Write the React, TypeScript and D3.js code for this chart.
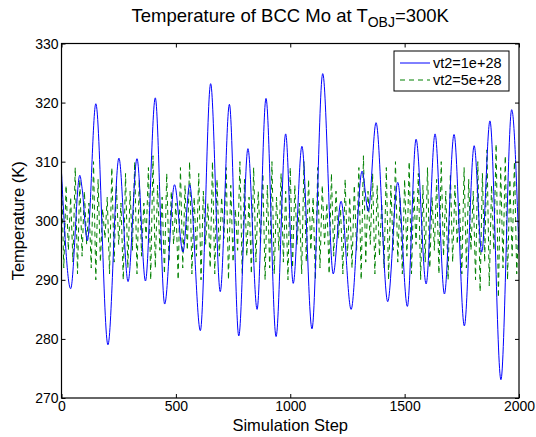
import * as d3 from "d3";
import { useRef, useEffect } from "react";

// vt2=1e+28 : turning points of the blue trace (simulation step, K)
const blueSteps = [
  0, 40, 80, 90, 113, 150, 203, 251, 291, 330, 367, 410, 451, 494, 531, 560,
  607, 652, 694, 734, 775, 815, 855, 894, 938, 980, 1013, 1051, 1095, 1142,
  1188, 1222, 1266, 1314, 1341, 1375, 1426, 1470, 1512, 1550, 1594, 1633,
  1674, 1716, 1761, 1804, 1837, 1873, 1921, 1968, 2000,
];
const blueTemps = [
  308.1, 288.5, 307.7, 305.5, 296.6, 319.8, 279.0, 310.6, 289.7, 310.5, 289.8,
  320.8, 285.9, 306.1, 294.7, 306.1, 281.4, 323.2, 288.0, 319.7, 280.5, 312.2,
  285.0, 320.7, 280.4, 314.7, 289.4, 312.6, 281.7, 324.9, 291.0, 303.3, 285.0,
  308.4, 301.6, 316.6, 286.3, 306.5, 285.5, 313.8, 289.3, 314.7, 287.6, 314.6,
  282.2, 312.7, 294.7, 316.9, 273.1, 318.8, 294.6,
];

// vt2=5e+28 : one sample every 10 steps
const sampleEvery = 10;
const greenTemps = [
  308, 292, 306, 295, 304, 293, 309, 291, 307, 294,
  305, 296, 303, 292, 310, 290, 307, 293, 302, 297,
  304, 291, 309, 293, 306, 296, 303, 290, 308, 292,
  305, 295, 310, 291, 307, 294, 303, 297, 309, 290,
  311, 292, 306, 295, 304, 291, 308, 293, 305, 296,
  303, 290, 309, 292, 306, 295, 310, 291, 304, 294,
  308, 290, 305, 296, 303, 292, 310, 291, 307, 294,
  304, 297, 309, 290, 306, 293, 302, 295, 310, 291,
  307, 294, 304, 291, 309, 293, 305, 296, 308, 290,
  306, 292, 310, 291, 304, 295, 308, 293, 305, 290,
  309, 292, 306, 296, 303, 291, 310, 293, 307, 295,
  304, 290, 309, 292, 306, 296, 303, 291, 308, 294,
  305, 297, 302, 291, 307, 294, 304, 292, 306, 295,
  309, 290, 311, 293, 305, 296, 308, 291, 306, 294,
  303, 292, 309, 290, 306, 295, 310, 293, 304, 291,
  307, 294, 310, 291, 305, 296, 308, 290, 306, 293,
  309, 292, 304, 295, 307, 291, 310, 294, 305, 290,
  308, 293, 306, 296, 303, 291, 309, 292, 307, 295,
  305, 290, 310, 288, 308, 293, 312, 289, 306, 295,
  313, 287, 309, 292, 311, 290, 307, 294, 310, 291,
  300,
];

const xTicks = [0, 500, 1000, 1500, 2000];
const yTicks = [270, 280, 290, 300, 310, 320, 330];
const seriesLabels = ["vt2=1e+28", "vt2=5e+28"];

const font = "'Liberation Sans', Arial, Helvetica, sans-serif";

export default function App() {
  const svgRef = useRef<SVGSVGElement>(null);
  const width = 536;
  const height = 437;
  const marginTop = 43.5;
  const marginRight = 17;
  const marginBottom = 39;
  const marginLeft = 61.5;

  useEffect(() => {
    const svg = d3.select(svgRef.current);
    svg.selectAll("*").remove();

    const x = d3
      .scaleLinear()
      .domain([0, 2000])
      .range([marginLeft, width - marginRight]);
    const y = d3
      .scaleLinear()
      .domain([270, 330])
      .range([height - marginBottom, marginTop]);

    svg
      .append("defs")
      .append("clipPath")
      .attr("id", "plot-clip")
      .append("rect")
      .attr("x", marginLeft)
      .attr("y", marginTop)
      .attr("width", width - marginLeft - marginRight)
      .attr("height", height - marginTop - marginBottom);

    const chart = svg.append("g").attr("clip-path", "url(#plot-clip)");

    const greenLine = d3
      .line<number>()
      .x((d, i) => x(i * sampleEvery))
      .y((d) => y(d));
    chart
      .append("path")
      .attr("fill", "none")
      .attr("stroke", "rgb(0,128,0)")
      .attr("stroke-width", 1)
      .attr("stroke-dasharray", "5,4")
      .attr("d", greenLine(greenTemps));

    const blueLine = d3
      .line<number>()
      .x((d, i) => x(blueSteps[i]))
      .y((d) => y(d))
      .curve(d3.curveMonotoneX);
    chart
      .append("path")
      .attr("fill", "none")
      .attr("stroke", "rgb(0,0,255)")
      .attr("stroke-width", 1)
      .attr("d", blueLine(blueTemps));

    // axes, MATLAB style: ticks inside on all four sides
    const tick = 4;
    const fmt = d3.format("d");
    const gx = svg
      .append("g")
      .attr("transform", `translate(0,${height - marginBottom})`)
      .call(
        d3
          .axisBottom(x)
          .tickValues(xTicks)
          .tickFormat(fmt)
          .tickSizeInner(-tick)
          .tickSizeOuter(0)
          .tickPadding(2)
      );
    svg
      .append("g")
      .attr("transform", `translate(0,${marginTop})`)
      .call(
        d3
          .axisTop(x)
          .tickValues(xTicks)
          .tickSizeInner(-tick)
          .tickSizeOuter(0)
          .tickFormat(() => "")
      );
    const gy = svg
      .append("g")
      .attr("transform", `translate(${marginLeft},0)`)
      .call(
        d3
          .axisLeft(y)
          .tickValues(yTicks)
          .tickFormat(fmt)
          .tickSizeInner(-tick)
          .tickSizeOuter(0)
          .tickPadding(3)
      );
    svg
      .append("g")
      .attr("transform", `translate(${width - marginRight},0)`)
      .call(
        d3
          .axisRight(y)
          .tickValues(yTicks)
          .tickSizeInner(-tick)
          .tickSizeOuter(0)
          .tickFormat(() => "")
      );
    svg.selectAll(".domain").remove();
    svg.selectAll(".tick line").attr("stroke", "#000");
    svg
      .selectAll(".tick text")
      .attr("font-family", font)
      .attr("font-size", 14)
      .attr("fill", "#000");
    gx.selectAll(".tick text").attr("dy", "0.75em");
    gy.selectAll(".tick text").attr("dy", "0.35em");

    svg
      .append("rect")
      .attr("x", marginLeft)
      .attr("y", marginTop)
      .attr("width", width - marginLeft - marginRight)
      .attr("height", height - marginTop - marginBottom)
      .attr("fill", "none")
      .attr("stroke", "#000")
      .attr("stroke-width", 1.2);

    // title with subscript
    const title = svg
      .append("text")
      .attr("x", (marginLeft + width - marginRight) / 2)
      .attr("y", 22)
      .attr("text-anchor", "middle")
      .attr("font-family", font)
      .attr("font-size", 18.5)
      .attr("fill", "#000");
    title.append("tspan").text("Temperature of BCC Mo at T");
    title.append("tspan").attr("dy", 4.5).attr("font-size", 14).text("OBJ");
    title.append("tspan").attr("dy", -4.5).text("=300K");

    svg
      .append("text")
      .attr("x", (marginLeft + width - marginRight) / 2)
      .attr("y", 431)
      .attr("text-anchor", "middle")
      .attr("font-family", font)
      .attr("font-size", 16.5)
      .text("Simulation Step");

    svg
      .append("text")
      .attr("transform", `translate(24,${(marginTop + height - marginBottom) / 2}) rotate(-90)`)
      .attr("text-anchor", "middle")
      .attr("font-family", font)
      .attr("font-size", 16.5)
      .text("Temperature (K)");

    // legend
    const legend = svg.append("g").attr("transform", "translate(394,51)");
    legend
      .append("rect")
      .attr("width", 115)
      .attr("height", 40)
      .attr("fill", "#fff")
      .attr("stroke", "#000")
      .attr("stroke-width", 1);
    const legendStyles = [
      { color: "rgb(0,0,255)", dash: null },
      { color: "rgb(0,128,0)", dash: "5,4" },
    ];
    seriesLabels.forEach((label, i) => {
      const cy = 12 + i * 17;
      legend
        .append("line")
        .attr("x1", 6)
        .attr("x2", 36)
        .attr("y1", cy)
        .attr("y2", cy)
        .attr("stroke", legendStyles[i].color)
        .attr("stroke-dasharray", legendStyles[i].dash);
      legend
        .append("text")
        .attr("x", 39)
        .attr("y", cy)
        .attr("dy", "0.35em")
        .attr("font-family", font)
        .attr("font-size", 14.5)
        .text(label);
    });
  }, []);

  return (
    <svg
      ref={svgRef}
      width={width}
      height={height}
      style={{ position: "absolute", left: 0, top: 0, background: "#fff" }}
    />
  );
}
